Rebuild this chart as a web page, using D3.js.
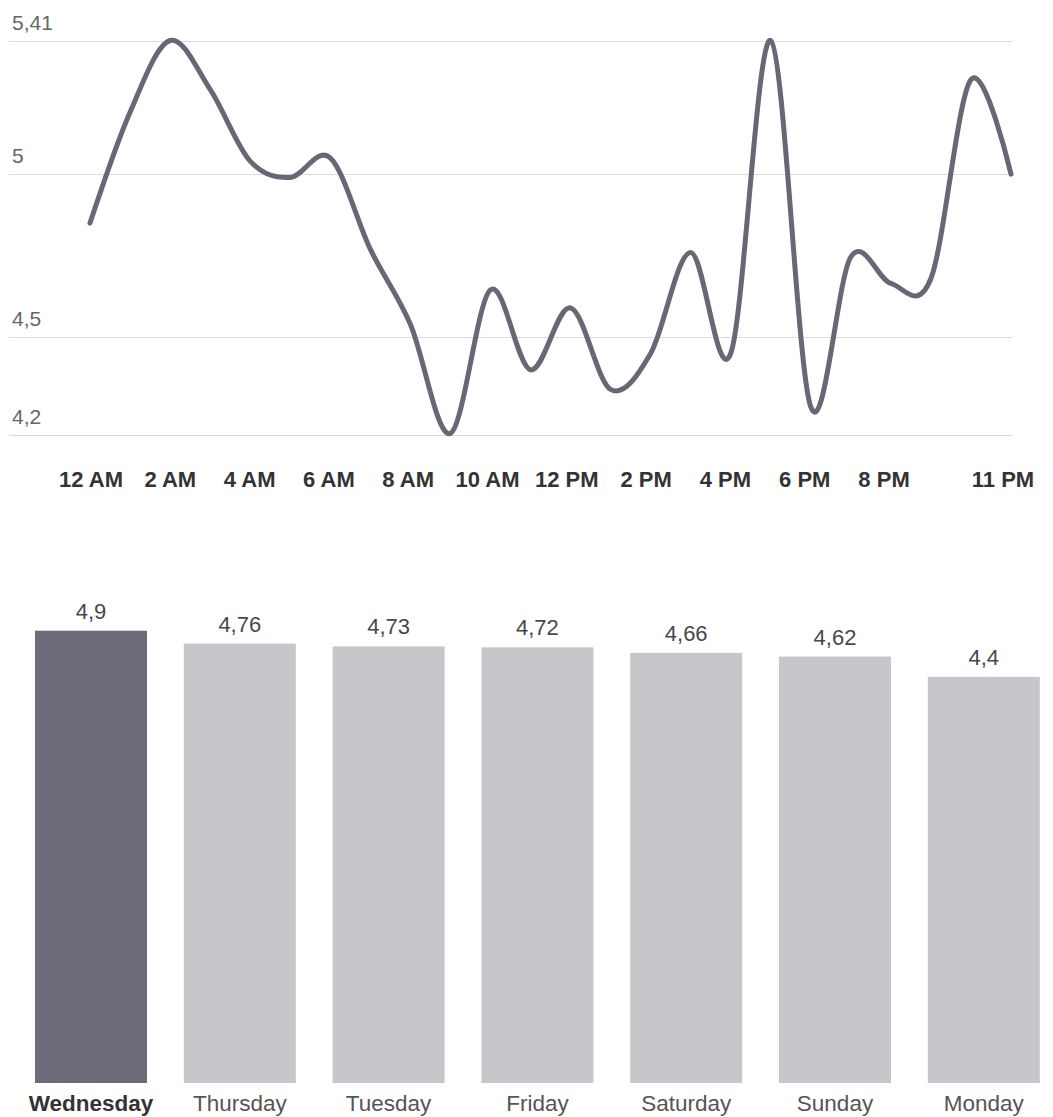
<!DOCTYPE html>
<html>
<head>
<meta charset="utf-8">
<script src="https://cdn.jsdelivr.net/npm/d3@7"></script>
<style>
  html, body { margin: 0; padding: 0; background: #fff; }
  svg { display: block; font-family: "Liberation Sans", Arial, sans-serif; }
</style>
</head>
<body>
<svg id="chart" width="1053" height="1117"></svg>
<script>
// Hourly average (0 = 12 AM ... 23 = 11 PM)
const hours = d3.range(24);
const hourlyValues = [4.85, 5.19, 5.41, 5.26, 5.04, 4.99, 5.05, 4.77, 4.54, 4.205,
                      4.645, 4.40, 4.59, 4.34, 4.45, 4.76, 4.45, 5.41, 4.286, 4.746,
                      4.665, 4.68, 5.29, 5.0];
const yTicks = [4.2, 4.5, 5, 5.41];
const hourTicks = [0, 2, 4, 6, 8, 10, 12, 14, 16, 18, 20, 23];
const hourTickLabels = ["12 AM", "2 AM", "4 AM", "6 AM", "8 AM", "10 AM", "12 PM",
                        "2 PM", "4 PM", "6 PM", "8 PM", "11 PM"];

// Average by weekday, sorted
const days = ["Wednesday", "Thursday", "Tuesday", "Friday", "Saturday", "Sunday", "Monday"];
const dayValues = [4.9, 4.76, 4.73, 4.72, 4.66, 4.62, 4.4];
const highlightDay = "Wednesday";

const fmt = v => String(v).replace(".", ",");

const svg = d3.select("#chart");

// ---------- Line chart ----------
const x = d3.scaleLinear().domain([0, 23]).range([90, 1011]);
const xLabel = d3.scaleLinear().domain([0, 23]).range([91, 1003]);
const y = d3.scaleLinear().domain([4.2, 5.41]).range([435, 40.5]);

const lineG = svg.append("g");

lineG.selectAll("line.grid")
  .data(yTicks)
  .join("line")
  .attr("class", "grid")
  .attr("x1", 9).attr("x2", 1012)
  .attr("y1", d => Math.round(y(d)) + 0.5)
  .attr("y2", d => Math.round(y(d)) + 0.5)
  .attr("stroke", "#dcdcdc")
  .attr("stroke-width", 1);

lineG.selectAll("text.ytick")
  .data(yTicks)
  .join("text")
  .attr("class", "ytick")
  .attr("x", 12)
  .attr("y", d => y(d) - 11)
  .attr("font-size", 21)
  .attr("fill", "#666")
  .text(d => fmt(d));

const line = d3.line()
  .x((d, i) => x(hours[i]))
  .y(d => y(d))
  .curve(d3.curveCardinal.tension(0));

lineG.append("path")
  .datum(hourlyValues)
  .attr("d", line)
  .attr("fill", "none")
  .attr("stroke", "#686775")
  .attr("stroke-width", 5)
  .attr("stroke-linecap", "round")
  .attr("stroke-linejoin", "round");

lineG.selectAll("text.xtick")
  .data(hourTicks)
  .join("text")
  .attr("class", "xtick")
  .attr("x", d => xLabel(d))
  .attr("y", 487)
  .attr("text-anchor", "middle")
  .attr("font-size", 22)
  .attr("font-weight", "bold")
  .attr("fill", "#333")
  .text((d, i) => hourTickLabels[i]);

// ---------- Bar chart ----------
const xb = d3.scaleBand()
  .domain(days)
  .range([16.6, 16.6 + 7 * 148.8])
  .paddingInner(0.2473)
  .paddingOuter(0.1237);
const yb = d3.scaleLinear().domain([0, 5]).range([1083, 621.5]);

const barG = svg.append("g");

barG.selectAll("rect")
  .data(days)
  .join("rect")
  .attr("x", d => xb(d))
  .attr("width", xb.bandwidth())
  .attr("y", (d, i) => yb(dayValues[i]))
  .attr("height", (d, i) => yb(0) - yb(dayValues[i]))
  .attr("fill", d => d === highlightDay ? "#6d6b7a" : "#c7c6cb");

barG.selectAll("text.val")
  .data(days)
  .join("text")
  .attr("class", "val")
  .attr("x", d => xb(d) + xb.bandwidth() / 2)
  .attr("y", (d, i) => yb(dayValues[i]) - 12)
  .attr("text-anchor", "middle")
  .attr("font-size", 22)
  .attr("fill", "#484848")
  .text((d, i) => fmt(dayValues[i]));

barG.selectAll("text.day")
  .data(days)
  .join("text")
  .attr("class", "day")
  .attr("x", d => xb(d) + xb.bandwidth() / 2)
  .attr("y", 1111)
  .attr("text-anchor", "middle")
  .attr("font-size", 22.5)
  .attr("font-weight", d => d === highlightDay ? "bold" : "normal")
  .attr("fill", d => d === highlightDay ? "#333" : "#555")
  .text(d => d);
</script>
</body>
</html>
